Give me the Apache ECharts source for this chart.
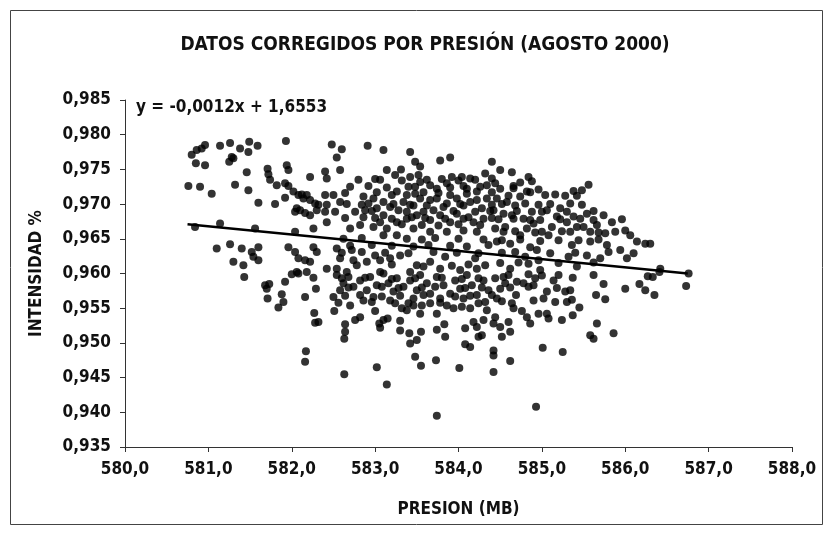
<!DOCTYPE html>
<html>
<head>
<meta charset="utf-8">
<script src="https://cdn.jsdelivr.net/npm/echarts@6/dist/echarts.min.js"></script>
<style>
  html, body { margin: 0; padding: 0; background: #fff; }
  #chart { width: 828px; height: 539px; }
</style>
</head>
<body>
<div id="chart"></div>
<script>
// Pressure (mb) vs corrected intensity, August 2000
const titulo = 'DATOS CORREGIDOS POR PRESIÓN (AGOSTO 2000)';
const ecuacion = 'y = -0,0012x + 1,6553';
const nombreX = 'PRESION (MB)';
const nombreY = 'INTENSIDAD %';

// x axis range and ticks (mb)
const ejeX = { min: 580, max: 588, paso: 1 };
// y axis range and ticks
const ejeY = { min: 0.935, max: 0.985, paso: 0.005 };

// linear trend: intercept as printed, slope unrounded (prints as -0,0012)
const tendencia = { pendiente: -0.001185, intercepto: 1.6553, desde: 580.75, hasta: 586.75 };

// hourly observations [presion, intensidad]
const puntos = [
  [580.80,0.9771],[580.86,0.9778],[580.92,0.9780],[580.96,0.9785],[581.14,0.9784],[581.26,0.9788],[581.38,0.9780],[581.49,0.9790],[581.59,0.9784],[581.48,0.9775],
  [581.28,0.9768],[581.25,0.9761],[581.30,0.9766],[580.85,0.9759],[580.96,0.9756],[581.93,0.9791],[581.46,0.9746],[581.71,0.9751],[581.72,0.9743],[581.94,0.9756],
  [581.96,0.9749],[581.74,0.9735],[581.82,0.9727],[581.92,0.9730],[581.96,0.9726],[582.22,0.9739],[582.40,0.9747],[582.42,0.9737],[580.76,0.9726],[580.90,0.9725],
  [581.04,0.9715],[581.32,0.9728],[581.48,0.9720],[581.60,0.9702],[581.80,0.9700],[581.92,0.9709],[582.02,0.9718],[582.08,0.9713],[582.12,0.9714],[582.18,0.9713],
  [582.14,0.9708],[582.22,0.9706],[582.28,0.9701],[582.32,0.9699],[582.06,0.9694],[582.04,0.9689],[582.10,0.9691],[582.16,0.9687],[582.22,0.9684],[582.30,0.9691],
  [582.40,0.9713],[582.42,0.9699],[582.40,0.9689],[582.42,0.9674],[582.26,0.9665],[580.84,0.9667],[581.14,0.9672],[581.56,0.9665],[582.04,0.9660],[581.10,0.9636],
  [581.26,0.9642],[581.40,0.9636],[581.52,0.9631],[581.60,0.9638],[581.54,0.9624],[581.60,0.9619],[581.30,0.9617],[581.42,0.9612],[581.96,0.9638],[582.04,0.9631],
  [582.08,0.9622],[582.16,0.9619],[582.22,0.9617],[582.26,0.9638],[582.30,0.9631],[582.06,0.9602],[582.18,0.9602],[582.42,0.9607],
  [581.43,0.9595],[581.68,0.9583],[581.73,0.9585],[581.70,0.9578],[581.71,0.9564],[581.88,0.9570],[581.90,0.9559],[581.84,0.9551],[581.92,0.9588],[582.00,0.9599],
  [582.08,0.9600],[582.26,0.9594],[582.29,0.9578],[582.16,0.9566],[582.27,0.9543],[582.28,0.9529],[582.32,0.9530],[582.17,0.9488],[582.16,0.9473],
  [582.51,0.9546],[582.64,0.9527],[582.64,0.9516],[582.63,0.9506],[582.63,0.9455],[583.02,0.9465],[583.14,0.9440],[583.05,0.9528],[583.10,0.9533],[583.15,0.9535],
  [583.06,0.9522],[583.30,0.9532],[583.30,0.9518],[583.41,0.9514],[583.42,0.9499],[583.50,0.9504],[583.55,0.9516],[583.48,0.9480],[583.55,0.9467],[583.73,0.9475],
  [583.74,0.9542],[583.74,0.9519],[583.83,0.9527],[583.84,0.9509],[584.01,0.9464],[583.74,0.9395],[584.08,0.9521],[584.08,0.9498],[584.14,0.9494],[584.22,0.9523],
  [584.24,0.9509],[584.28,0.9511],[584.18,0.9530],[582.82,0.9537],[582.76,0.9533],[583.00,0.9546],[582.70,0.9554],[582.86,0.9561],[583.32,0.9550],[583.38,0.9547],
  [583.54,0.9542],[583.40,0.9557],[583.46,0.9554],[583.56,0.9554],[583.66,0.9557],[583.86,0.9554],[583.94,0.9550],[584.04,0.9552],[584.14,0.9550],[584.24,0.9557],
  [584.34,0.9547],[584.30,0.9533],
  [582.54,0.9598],[582.62,0.9586],[582.58,0.9576],[582.68,0.9595],[582.74,0.9581],[582.82,0.9590],[582.90,0.9576],[582.94,0.9595],[583.02,0.9583],[583.10,0.9600],
  [583.16,0.9586],[583.22,0.9574],[583.26,0.9593],[583.34,0.9581],[583.42,0.9590],[583.50,0.9576],[583.54,0.9598],[583.62,0.9586],[583.66,0.9571],[583.74,0.9595],
  [583.82,0.9583],[583.90,0.9571],[583.96,0.9590],[584.02,0.9578],[584.10,0.9598],[584.16,0.9583],[584.22,0.9569],[584.30,0.9590],[584.36,0.9576],[582.50,0.9566],
  [582.98,0.9566],[583.18,0.9561],[583.46,0.9564],[583.78,0.9564],[584.06,0.9564],
  [584.46,0.9564],[584.44,0.9537],[584.42,0.9528],[584.50,0.9523],[584.52,0.9509],[584.60,0.9530],[584.62,0.9516],[584.42,0.9489],[584.42,0.9482],[584.42,0.9458],
  [584.62,0.9474],[584.93,0.9408],[585.01,0.9493],[585.25,0.9487],[584.64,0.9557],[584.66,0.9550],[584.76,0.9546],[584.82,0.9537],[584.86,0.9528],[584.96,0.9542],
  [585.06,0.9542],[585.08,0.9535],[585.02,0.9564],[585.06,0.9574],[585.14,0.9590],[585.28,0.9574],[585.30,0.9559],[585.36,0.9562],[585.34,0.9576],[585.37,0.9594],
  [585.45,0.9551],[585.37,0.9540],[585.24,0.9533],[585.58,0.9511],[585.62,0.9506],[585.66,0.9528],[585.86,0.9514],[585.65,0.9569],[585.76,0.9563],[585.74,0.9585],
  [585.62,0.9598],[586.00,0.9578],[586.17,0.9585],[586.24,0.9576],[586.27,0.9596],[584.70,0.9588],[584.78,0.9586],[584.90,0.9583],[584.92,0.9593],[584.69,0.9569],
  [584.56,0.9586],[584.50,0.9578],[584.54,0.9595],[584.44,0.9593],
  [586.33,0.9595],[586.76,0.9600],[586.73,0.9582],[586.35,0.9569],[586.41,0.9602],
  [582.48,0.9786],[582.60,0.9779],[582.54,0.9767],[582.58,0.9749],[582.91,0.9784],[583.10,0.9778],[583.42,0.9775],[583.78,0.9763],[583.90,0.9767],[583.48,0.9761],
  [583.54,0.9754],[583.14,0.9749],[583.31,0.9750],[583.06,0.9735],[583.24,0.9742],[583.42,0.9739],[583.52,0.9742],[583.54,0.9732],[583.48,0.9725],[583.66,0.9727],
  [583.74,0.9722],[583.86,0.9730],[583.92,0.9739],[584.04,0.9739],[584.14,0.9737],[584.10,0.9722],[584.22,0.9718],[584.32,0.9744],[584.34,0.9727],[582.86,0.9711],
  [582.98,0.9708],[582.84,0.9699],[582.76,0.9689],[582.88,0.9691],[583.02,0.9694],[583.10,0.9703],[583.20,0.9713],[583.26,0.9718],[583.18,0.9696],[583.10,0.9684],
  [583.06,0.9674],[583.28,0.9691],[583.34,0.9703],[583.38,0.9713],[583.46,0.9698],[583.54,0.9708],[583.62,0.9698],[583.66,0.9706],[583.74,0.9708],[583.82,0.9696],
  [583.90,0.9713],[583.98,0.9708],[584.06,0.9698],[584.14,0.9703],[584.22,0.9706],[584.28,0.9694],[584.34,0.9708],[582.50,0.9713],[582.58,0.9703],[582.52,0.9689],
  [582.70,0.9665],[582.98,0.9667],[583.14,0.9665],[583.26,0.9674],[583.38,0.9679],[583.50,0.9684],[583.58,0.9689],[583.66,0.9677],[583.78,0.9684],[583.90,0.9674],
  [583.98,0.9686],[584.06,0.9679],[584.18,0.9674],[584.30,0.9679],[583.46,0.9665],[583.66,0.9660],[583.86,0.9660],[584.06,0.9662],[584.22,0.9660],[583.10,0.9655],
  [583.26,0.9655],[582.54,0.9636],[582.58,0.9622],[582.72,0.9634],[582.74,0.9619],[582.90,0.9617],[583.00,0.9626],[583.06,0.9619],[583.18,0.9622],[583.30,0.9626],
  [583.58,0.9610],[583.78,0.9607],[583.66,0.9617],[583.84,0.9624],[584.20,0.9622],[584.22,0.9607],[582.54,0.9607],[582.66,0.9602],[583.06,0.9602],[583.42,0.9602],
  [584.02,0.9605],
  [584.40,0.9761],[584.50,0.9749],[584.64,0.9746],[584.84,0.9739],[584.88,0.9733],[584.74,0.9731],[584.66,0.9726],[584.82,0.9718],[584.86,0.9717],[585.16,0.9714],
  [585.28,0.9712],[585.38,0.9719],[585.48,0.9720],[585.56,0.9728],[584.40,0.9737],[584.44,0.9730],[584.46,0.9708],[584.58,0.9703],[584.68,0.9698],[584.42,0.9691],
  [584.54,0.9686],[584.64,0.9684],[584.78,0.9679],[584.88,0.9689],[585.00,0.9689],[584.98,0.9677],[584.90,0.9672],[584.82,0.9665],[584.74,0.9655],[584.62,0.9643],
  [584.46,0.9646],[584.44,0.9665],[584.56,0.9667],[585.22,0.9694],[585.18,0.9682],[585.12,0.9667],[585.08,0.9655],[585.30,0.9674],[585.38,0.9682],[585.54,0.9686],
  [585.74,0.9684],[585.84,0.9674],[585.42,0.9667],[585.34,0.9660],[585.50,0.9667],[585.58,0.9660],[585.66,0.9670],[585.76,0.9658],[585.78,0.9641],[585.94,0.9634],
  [586.00,0.9662],[586.06,0.9655],[586.14,0.9646],[586.24,0.9643],[585.36,0.9641],[585.44,0.9648],[585.58,0.9646],[584.86,0.9638],[584.94,0.9634],[584.80,0.9624],
  [584.96,0.9619],[585.32,0.9624],[585.54,0.9626],[585.70,0.9622],[586.02,0.9622],[584.62,0.9607],[584.98,0.9605],[585.42,0.9610],
  [586.30,0.9643],[586.42,0.9607],
  // central cluster
  [582.80,0.9735],[583.00,0.9736],[583.32,0.9734],[583.62,0.9735],[583.80,0.9736],[584.00,0.9734],[584.20,0.9735],
  [582.70,0.9725],[582.92,0.9726],[583.14,0.9724],[583.40,0.9725],[583.90,0.9724],[584.06,0.9726],[584.26,0.9725],
  [582.64,0.9716],[583.02,0.9717],[583.48,0.9715],[583.58,0.9717],[583.76,0.9716],[584.10,0.9715],[584.40,0.9717],
  [582.66,0.9700],[582.92,0.9701],[583.22,0.9700],[583.42,0.9699],[583.86,0.9701],[584.02,0.9700],[584.40,0.9699],
  [582.96,0.9690],[583.38,0.9689],[583.70,0.9691],[583.94,0.9690],[584.20,0.9689],[584.38,0.9690],
  [582.64,0.9680],[582.86,0.9681],[583.00,0.9680],[583.20,0.9679],[583.44,0.9681],[583.60,0.9680],[583.84,0.9679],[584.12,0.9681],[584.40,0.9680],
  [582.82,0.9670],[583.32,0.9671],[583.56,0.9670],[583.76,0.9669],[584.00,0.9671],[584.26,0.9670],
  [582.62,0.9650],[582.84,0.9651],[583.38,0.9650],[583.56,0.9649],[583.72,0.9651],[584.00,0.9650],[584.30,0.9649],
  [582.70,0.9640],[582.96,0.9641],[583.20,0.9640],[583.46,0.9639],[583.64,0.9641],[583.90,0.9640],[584.10,0.9639],[584.36,0.9641],
  [582.60,0.9630],[582.84,0.9631],[583.12,0.9630],[583.40,0.9629],[583.70,0.9631],[583.98,0.9630],[584.24,0.9629],
  [582.78,0.9612],[583.20,0.9613],[583.50,0.9612],[583.92,0.9611],[584.12,0.9613],[584.32,0.9612],
  [582.60,0.9593],[582.88,0.9594],[583.20,0.9592],[583.48,0.9593],[583.80,0.9594],[584.04,0.9592],[584.24,0.9593],
  [582.68,0.9580],[583.08,0.9581],[583.28,0.9579],[583.56,0.9580],[583.72,0.9581],[584.08,0.9579],[584.28,0.9580],
  [582.64,0.9568],[582.82,0.9569],[583.08,0.9567],[583.30,0.9568],[583.58,0.9569],[583.96,0.9567],[584.14,0.9568],[584.40,0.9569],
  [582.56,0.9558],[582.96,0.9559],[583.24,0.9557],[583.78,0.9558],[584.32,0.9559],
  [584.50,0.9722],[584.66,0.9723],[584.96,0.9721],
  [584.60,0.9712],[584.74,0.9711],[585.04,0.9713],[585.42,0.9712],
  [584.52,0.9700],[584.80,0.9701],[584.96,0.9699],[585.10,0.9700],[585.34,0.9701],[585.48,0.9699],
  [584.70,0.9690],[585.06,0.9691],[585.30,0.9689],[585.62,0.9690],
  [584.48,0.9678],[584.66,0.9679],[584.86,0.9677],[585.22,0.9678],[585.46,0.9679],[585.62,0.9677],[585.96,0.9678],
  [584.54,0.9660],[584.68,0.9661],[584.92,0.9659],[585.00,0.9660],[585.24,0.9661],[585.68,0.9659],[585.88,0.9660],
  [584.52,0.9648],[584.74,0.9649],[584.98,0.9647],[585.20,0.9648],[585.68,0.9649],
  [584.52,0.9630],[584.68,0.9631],[585.10,0.9629],[585.40,0.9630],[585.80,0.9631],[586.10,0.9629],
  [584.50,0.9615],[584.72,0.9616],[584.84,0.9614],[585.20,0.9615],[585.62,0.9616],
  [584.60,0.9598],[584.84,0.9599],[585.00,0.9597],[585.20,0.9598],
  [584.62,0.9580],[584.84,0.9581],[585.18,0.9579],
  [584.52,0.9560],[584.90,0.9561],[585.16,0.9559]
];

const chart = echarts.init(document.getElementById('chart'), null, { renderer: 'canvas' });
const fuente = '"Liberation Sans Narrow", "Arial Narrow", "DejaVu Sans Condensed", sans-serif';
const coma = (v, d) => v.toFixed(d).replace('.', ',');

const lineaTendencia = [tendencia.desde, tendencia.hasta].map(x => [x, tendencia.intercepto + tendencia.pendiente * x]);

chart.setOption({
  backgroundColor: '#fff',
  animation: false,
  title: {
    text: titulo, left: 420, top: 31, textAlign: 'center',
    textStyle: { fontFamily: fuente, fontWeight: 'bold', fontSize: 19, color: '#111' }
  },
  graphic: [
    { type: 'rect', left: 8, top: 8, shape: { width: 812, height: 514 }, style: { fill: 'none', stroke: '#444', lineWidth: 1 } },
    { type: 'text', left: 136, top: 99, style: { text: ecuacion, font: 'bold 17px ' + fuente, fill: '#111' } }
  ],
  grid: { left: 125, top: 100, width: 667, height: 347, containLabel: false },
  xAxis: {
    type: 'value', min: ejeX.min, max: ejeX.max, interval: ejeX.paso,
    name: nombreX, nameLocation: 'middle', nameGap: 54,
    nameTextStyle: { fontFamily: fuente, fontWeight: 'bold', fontSize: 17, color: '#111' },
    axisLine: { lineStyle: { color: '#333', width: 1 } },
    axisTick: { length: 5, lineStyle: { color: '#333' } },
    axisLabel: { formatter: v => coma(v, 1), margin: 14, fontFamily: fuente, fontWeight: 'bold', fontSize: 17, color: '#111' },
    splitLine: { show: false }
  },
  yAxis: {
    type: 'value', min: ejeY.min, max: ejeY.max, interval: ejeY.paso,
    name: nombreY, nameLocation: 'middle', nameGap: 80, nameRotate: 90,
    nameTextStyle: { fontFamily: fuente, fontWeight: 'bold', fontSize: 17, color: '#111' },
    axisLine: { show: true, lineStyle: { color: '#333', width: 1 } },
    axisTick: { show: true, length: 5, lineStyle: { color: '#333' } },
    axisLabel: { formatter: v => coma(v, 3), margin: 14, fontFamily: fuente, fontWeight: 'bold', fontSize: 17, color: '#111' },
    splitLine: { show: false }
  },
  series: [
    {
      type: 'scatter', data: puntos, symbol: 'circle', symbolSize: 8,
      itemStyle: { color: '#000' }, z: 2
    },
    {
      type: 'line', data: lineaTendencia, symbol: 'none',
      lineStyle: { color: '#000', width: 2.5 }, z: 3
    }
  ]
});
</script>
</body>
</html>
